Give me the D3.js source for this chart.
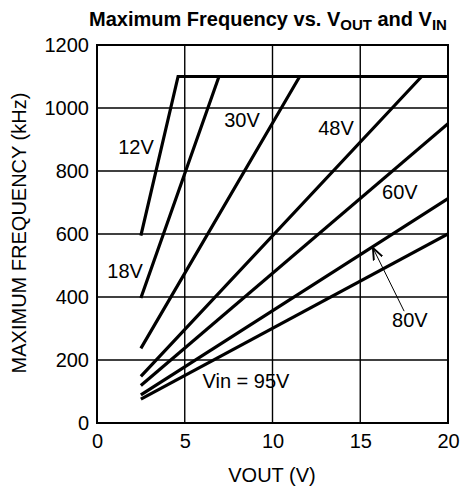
<!DOCTYPE html>
<html>
<head>
<meta charset="utf-8">
<script src="https://d3js.org/d3.v7.min.js"></script>
<style>
body { margin: 0; background: #ffffff; }
svg text { font-family: "Liberation Sans", Arial, sans-serif; fill: #000000; }
</style>
</head>
<body>
<svg id="viz" width="463" height="487"></svg>
<script>
// values (VOUT in V, frequency in kHz)
var xTicks = [0, 5, 10, 15, 20];
var yTicks = [0, 200, 400, 600, 800, 1000, 1200];
var vin12 = [[2.5, 595], [4.62, 1100], [20, 1100]];
var vin18 = [[2.5, 397], [6.95, 1100], [20, 1100]];
var vin30 = [[2.5, 237], [11.55, 1100], [20, 1100]];
var vin48 = [[2.5, 148], [18.5, 1100], [20, 1100]];
var vin60 = [[2.5, 119], [20, 950]];
var vin80 = [[2.5, 89], [20, 712]];
var vin95 = [[2.5, 76], [20, 600]];
var seriesList = [vin12, vin18, vin30, vin48, vin60, vin80, vin95];

// curve labels, placed in data units
var curveLabels = [
  {text: "12V", x: 2.22, y: 855},
  {text: "18V", x: 1.6, y: 459},
  {text: "30V", x: 8.26, y: 940},
  {text: "48V", x: 13.62, y: 915},
  {text: "60V", x: 17.26, y: 712},
  {text: "80V", x: 17.83, y: 304},
  {text: "Vin = 95V", x: 8.49, y: 111}
];
var arrow80 = [[17.5, 355], [15.72, 556]];

var svg = d3.select("#viz");
var x = d3.scaleLinear().domain([0, 20]).range([97, 448]);
var y = d3.scaleLinear().domain([0, 1200]).range([423, 45]);

svg.append("defs").append("clipPath").attr("id", "plotClip")
  .append("rect").attr("x", 97).attr("y", 45).attr("width", 351).attr("height", 378);

// grid
svg.append("g").selectAll("line").data(xTicks.slice(1, -1)).enter().append("line")
  .attr("x1", function (d) { return x(d); }).attr("x2", function (d) { return x(d); })
  .attr("y1", y(0)).attr("y2", y(1200))
  .attr("stroke", "#000").attr("stroke-width", 1.4);
svg.append("g").selectAll("line").data(yTicks.slice(1, -1)).enter().append("line")
  .attr("y1", function (d) { return y(d); }).attr("y2", function (d) { return y(d); })
  .attr("x1", x(0)).attr("x2", x(20))
  .attr("stroke", "#000").attr("stroke-width", 1.4);

// curves
var line = d3.line().x(function (d) { return x(d[0]); }).y(function (d) { return y(d[1]); });
svg.append("g").attr("clip-path", "url(#plotClip)").selectAll("path").data(seriesList).enter().append("path")
  .attr("d", line)
  .attr("fill", "none").attr("stroke", "#000").attr("stroke-width", 3.2)
  .attr("stroke-linejoin", "miter");

// frame
svg.append("rect").attr("x", x(0)).attr("y", y(1200))
  .attr("width", x(20) - x(0)).attr("height", y(0) - y(1200))
  .attr("fill", "none").attr("stroke", "#000").attr("stroke-width", 2);

// axes labels
var xAxis = d3.axisBottom(x).tickValues(xTicks).tickSize(0).tickPadding(11);
var gx = svg.append("g").attr("transform", "translate(0," + y(0) + ")").call(xAxis);
gx.select(".domain").remove();
gx.selectAll("text").style("font-size", "20px").attr("fill", "#000");

var yAxis = d3.axisLeft(y).tickValues(yTicks).tickSize(0).tickPadding(8).tickFormat(d3.format("d"));
var gy = svg.append("g").attr("transform", "translate(" + x(0) + ",0)").call(yAxis);
gy.select(".domain").remove();
gy.selectAll("text").style("font-size", "20px").attr("fill", "#000");

svg.append("text").attr("x", 272).attr("y", 482).attr("text-anchor", "middle")
  .style("font-size", "20px").text("VOUT (V)");
svg.append("text").attr("transform", "translate(26,233)rotate(-90)").attr("text-anchor", "middle")
  .style("font-size", "20px").text("MAXIMUM FREQUENCY (kHz)");

// title with subscripts
var title = svg.append("text").attr("x", 268).attr("y", 26).attr("text-anchor", "middle")
  .style("font-size", "20px").style("font-weight", "bold");
title.append("tspan").text("Maximum Frequency vs. V");
title.append("tspan").attr("dy", 4).style("font-size", "15px").text("OUT");
title.append("tspan").attr("dy", -4).text(" and V");
title.append("tspan").attr("dy", 4).style("font-size", "15px").text("IN");

// curve labels
svg.append("g").selectAll("text").data(curveLabels).enter().append("text")
  .attr("x", function (d) { return x(d.x); }).attr("y", function (d) { return y(d.y); })
  .attr("text-anchor", "middle").style("font-size", "20px")
  .text(function (d) { return d.text; });

// arrow for 80V
svg.append("defs").append("marker").attr("id", "arrowHead")
  .attr("viewBox", "0 0 10 10").attr("refX", 10).attr("refY", 5)
  .attr("markerWidth", 12).attr("markerHeight", 12).attr("markerUnits", "userSpaceOnUse")
  .attr("orient", "auto")
  .append("path").attr("d", "M0,1 L10,5 L0,9").attr("fill", "none").attr("stroke", "#000").attr("stroke-width", 1.6);
svg.append("path").attr("d", line(arrow80))
  .attr("stroke", "#000").attr("stroke-width", 1).attr("fill", "none")
  .attr("marker-end", "url(#arrowHead)");
</script>
</body>
</html>
